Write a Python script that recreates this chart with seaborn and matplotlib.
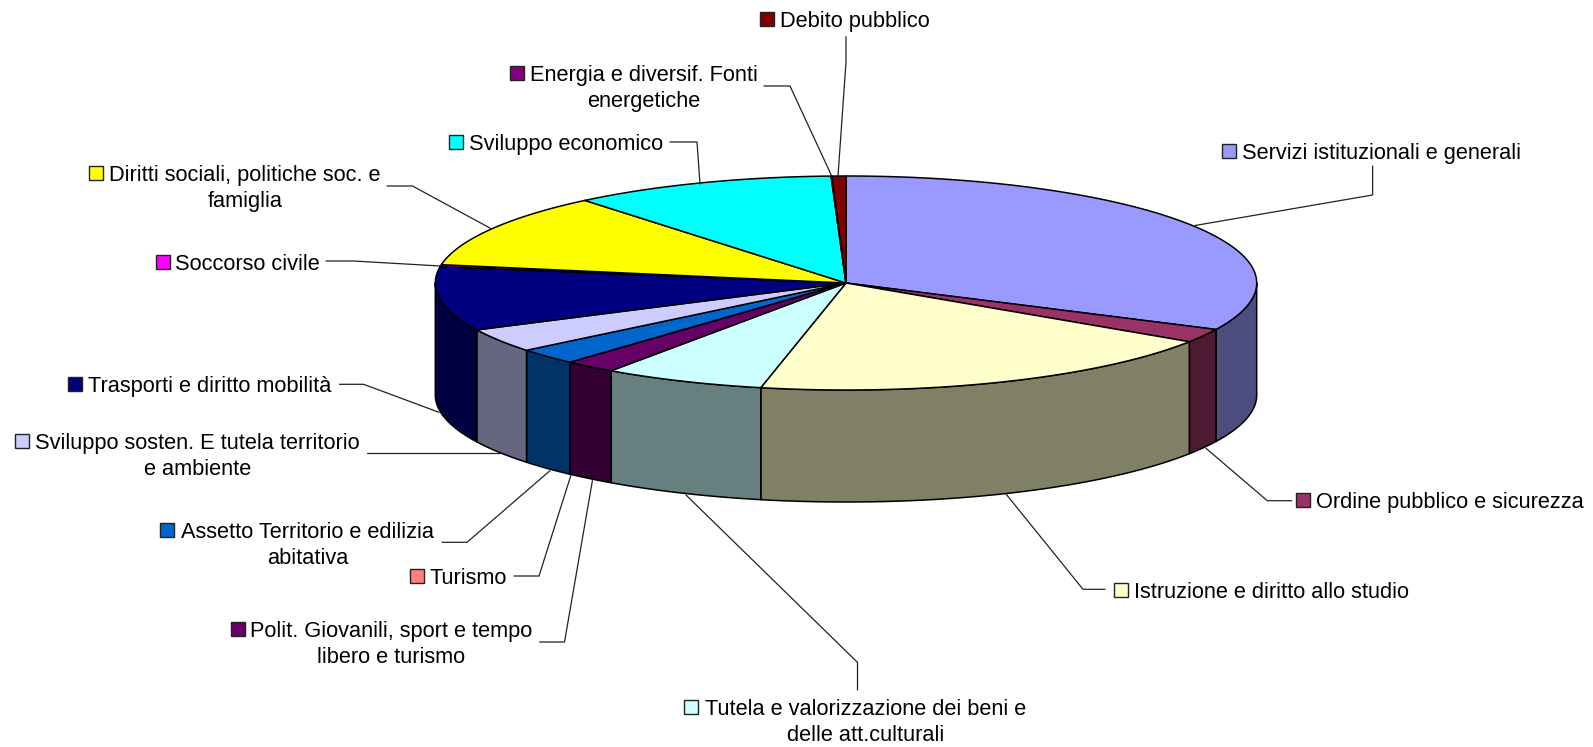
from matplotlib import pyplot as plt
from matplotlib.patches import Polygon, Rectangle
import numpy as np
import seaborn as sns

# quote percentuali, in senso orario da ore 12
categories = ['Servizi istituzionali e generali', 'Ordine pubblico e sicurezza',
              'Istruzione e diritto allo studio',
              'Tutela e valorizzazione dei beni e\ndelle att.culturali',
              'Polit. Giovanili, sport e tempo\nlibero e turismo', 'Turismo',
              'Assetto Territorio e edilizia\nabitativa',
              'Sviluppo sosten. E tutela territorio\ne ambiente',
              'Trasporti e diritto mobilità', 'Soccorso civile',
              'Diritti sociali, politiche soc. e\nfamiglia', 'Sviluppo economico',
              'Energia e diversif. Fonti\nenergetiche', 'Debito pubblico']
values = [32.18, 2.1, 19.1, 6.37, 2.05, 0.0, 2.45, 3.6, 9.67, 0.3, 11.3, 10.4, 0.03, 0.55]
colors = ['#9999FF', '#993366', '#FFFFCC', '#CCFFFF', '#660066', '#FF8080', '#0066CC',
          '#CCCCFF', '#000080', '#FF00FF', '#FFFF00', '#00FFFF', '#800080', '#800000']

# layout in pixel: geometria torta, etichette, linee di richiamo
cx, cy, rx, ry, depth = 846, 283, 410.7, 107, 112
key_x = [1222, 1296, 1113.5, 684, 230.6, 409.5, 159.5, 15.2, 68, 155.5, 89.4, 449, 510, 760]
text_x = [1381.8, 1450, 1271, 865.6, 391.5, 468.4, 307.5, 197.6, 210, 247.4, 245, 566.4, 644, 854.5]
text_y = [151.4, 500, 590.3, 707, 629, 576, 529.5, 441, 384, 262, 172.7, 142.2, 73, 19.3]
leaders = [[(1372.6, 166), (1372.6, 195), (1195, 225.5)],
           [(1291.7, 500.7), (1267.3, 500.7), (1206, 448.3)],
           [(1105, 589.3), (1083, 589.3), (1006, 494)],
           [(857.5, 690), (857.5, 662.4), (686, 495)],
           [(539.6, 642), (564.5, 642), (592.4, 480.7)],
           [(514, 576), (539, 576), (571, 475)],
           [(442, 542.3), (467, 542.3), (550, 470.7)],
           [(366.6, 453.3), (501, 453.3)],
           [(339.5, 384.3), (363.6, 384.3), (439, 412.3)],
           [(326, 261), (353.6, 261), (440, 266)],
           [(387, 186), (412.5, 186), (491, 228.6)],
           [(670, 142), (697, 142), (700, 184)],
           [(764, 86), (790, 86), (831.7, 176)],
           [(846, 36.7), (846, 62), (838, 176)]]


def rim(a, b, n=200):
    t = np.radians(np.linspace(a, b, n))
    return cx + rx * np.sin(t), cy - ry * np.cos(t)


def darker(c):
    return tuple(v * 0.5 for v in sns.color_palette([c])[0])


sns.set_style('white')
plt.rcParams['font.family'] = ['Liberation Sans', 'DejaVu Sans']

f, ax = plt.subplots(figsize=(15.93, 7.47), dpi=100)
f.subplots_adjust(0, 0, 1, 1)
ax.set_xlim(0, 1593)
ax.set_ylim(747, 0)
ax.axis('off')

angles = np.cumsum([0] + values) / sum(values) * 360

# pareti esterne, solo la meta davanti
for i, c in enumerate(colors):
    a, b = max(angles[i], 90), min(angles[i + 1], 270)
    if b <= a:
        continue
    x, y = rim(a, b)
    xs = np.r_[x, x[::-1]]
    ys = np.r_[y, y[::-1] + depth]
    ax.add_patch(Polygon(np.c_[xs, ys], fc=darker(c), ec='black', lw=1.1, joinstyle='round'))

# spicchi sopra
for i, c in enumerate(colors):
    if values[i] == 0:
        continue
    x, y = rim(angles[i], angles[i + 1])
    ax.add_patch(Polygon(np.c_[np.r_[cx, x], np.r_[cy, y]], fc=c, ec='black', lw=1.1,
                         joinstyle='round'))

for pts in leaders:
    ax.plot(*zip(*pts), color='#222222', lw=0.9, solid_joinstyle='miter')

for i, name in enumerate(categories):
    ax.add_patch(Rectangle((key_x[i], text_y[i] - 7), 14, 14, fc=colors[i], ec='#222222', lw=1.0))
    for j, line in enumerate(name.split('\n')):
        ax.text(text_x[i], text_y[i] + j * 26, line, ha='center', va='center_baseline',
                fontsize=15.65, color='black')

plt.savefig('out.png', dpi=100)
